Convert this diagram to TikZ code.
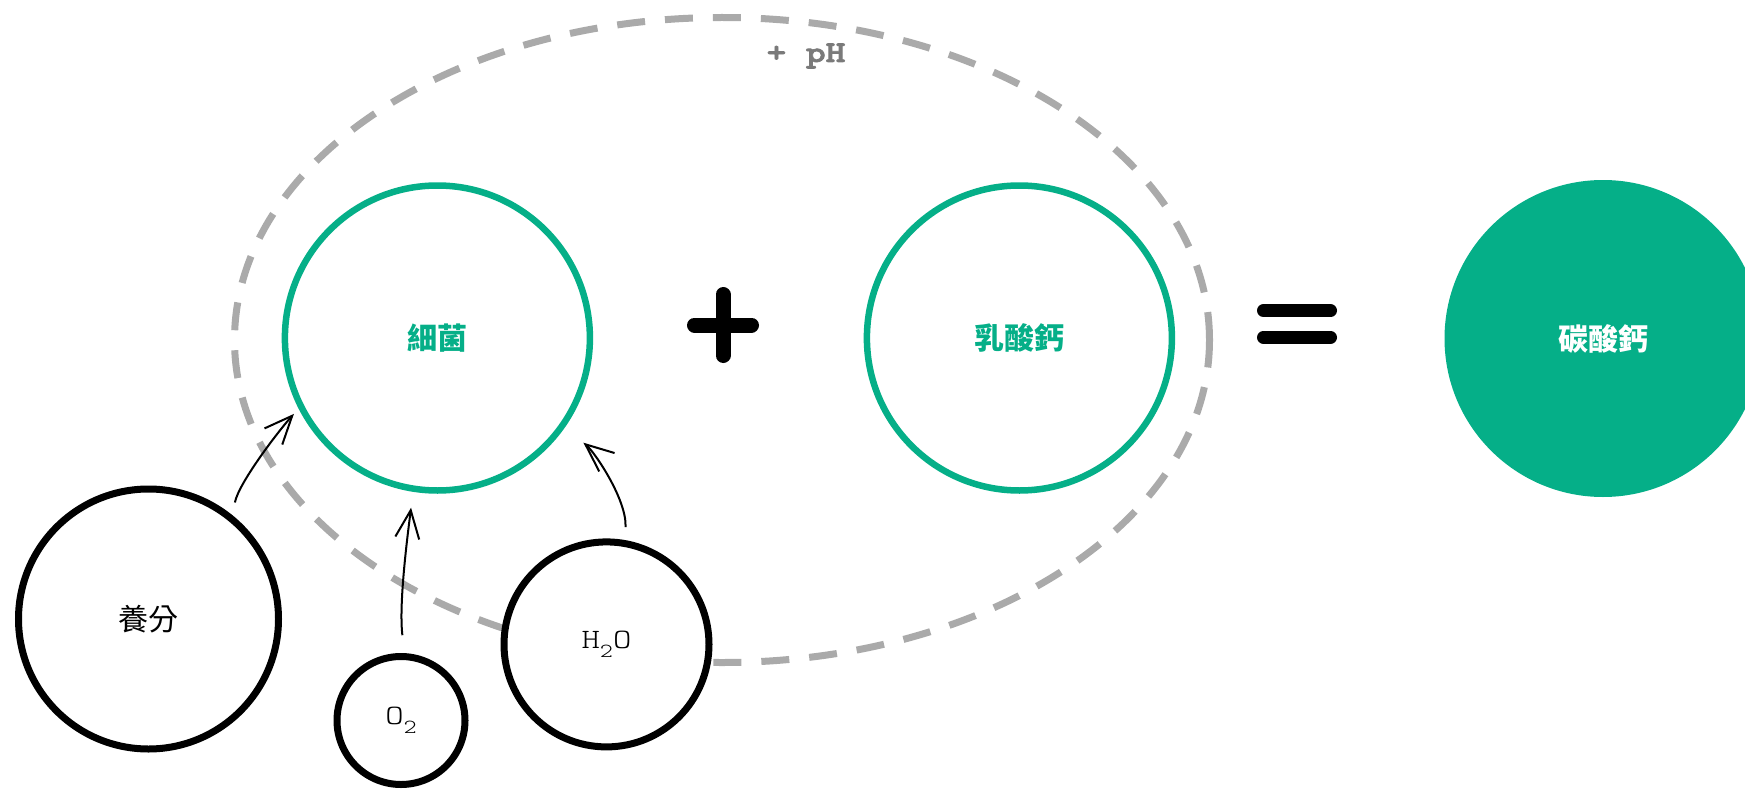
\documentclass[tikz,border=0pt]{standalone}
\usepackage{fontspec}
\usetikzlibrary{arrows.meta,shapes.geometric}
\newfontfamily\cjk{Noto Sans CJK TC}
\newfontfamily\monol[FakeStretch=1.25]{lmmonolt10-regular.otf}
\newfontfamily\monob[FakeStretch=1.25,FakeBold=2.5]{lmmonolt10-bold.otf}
\definecolor{grn}{HTML}{05AF88}
\definecolor{dashgray}{HTML}{AAAAAA}
\definecolor{phgray}{HTML}{7A7A7A}
\begin{document}
\begin{tikzpicture}[x=1pt,y=-1pt,
  greenring/.style={circle, draw=grn, line width=6.5pt, fill=white, minimum size=305pt, inner sep=0pt, text=grn, font=\cjk\bfseries\fontsize{30}{30}\selectfont},
  blackring/.style={circle, draw=black, line width=7pt, fill=white, inner sep=0pt},
  chem/.style={font=\monol\fontsize{28}{28}\selectfont},
  arr/.style={line width=2pt, -{Straight Barb[length=28pt,width=24pt]}},
  plusbar/.style={line width=15pt, line cap=round},
  eqbar/.style={line width=13pt, line cap=round}]
\useasboundingbox (0,0) rectangle (1745,789);
\clip (0,0) rectangle (1745,789);
% environment ellipse
\node[ellipse, draw=dashgray, line width=7pt, dash pattern=on 28pt off 20pt, minimum width=975pt, minimum height=645pt, inner sep=0pt] (env) at (722,340) {};
\node[font=\monob\fontsize{30}{30}\selectfont, text=phgray] (ph) at (806,56) {+ pH};
% main circles
\node[greenring] (xijun) at (437.4,338) {細菌};
\node[greenring] (rusuan) at (1019.4,338) {乳酸鈣};
\node[circle, fill=grn, minimum size=317pt, inner sep=0pt, text=white, font=\cjk\bfseries\fontsize{30}{30}\selectfont] (tansuan) at (1603,338.5) {碳酸鈣};
% inputs
\node[blackring, minimum size=260pt, font=\cjk\fontsize{30}{30}\selectfont] (yangfen) at (148.5,619) {養分};
\node[blackring, minimum size=128pt, chem] (o2) at (401,720.5) {O\raisebox{-9pt}{\fontsize{20}{20}\selectfont 2}};
\node[blackring, minimum size=205pt, chem] (h2o) at (606.5,644.4) {H\raisebox{-9pt}{\fontsize{20}{20}\selectfont 2}O};
% operators
\draw[plusbar] (723,294.5) -- (723,355.5);
\draw[plusbar] (694.5,325) -- (751.5,325);
\draw[eqbar] (1263.5,310.7) -- (1330.5,310.7);
\draw[eqbar] (1263.5,337.3) -- (1330.5,337.3);
% arrows
\draw[arr, shorten <=13pt, shorten >=7pt] (yangfen.51) .. controls +(6,-32) and +(-20,22) .. (xijun.207);
\draw[arr, shorten <=18pt, shorten >=16pt] (o2.87) .. controls +(-6,-50) and +(-5,40) .. (xijun.261);
\draw[arr, shorten <=13pt, shorten >=24pt] (h2o.80) .. controls +(2,-40) and +(30,25) .. (xijun.325);
\end{tikzpicture}
\end{document}
